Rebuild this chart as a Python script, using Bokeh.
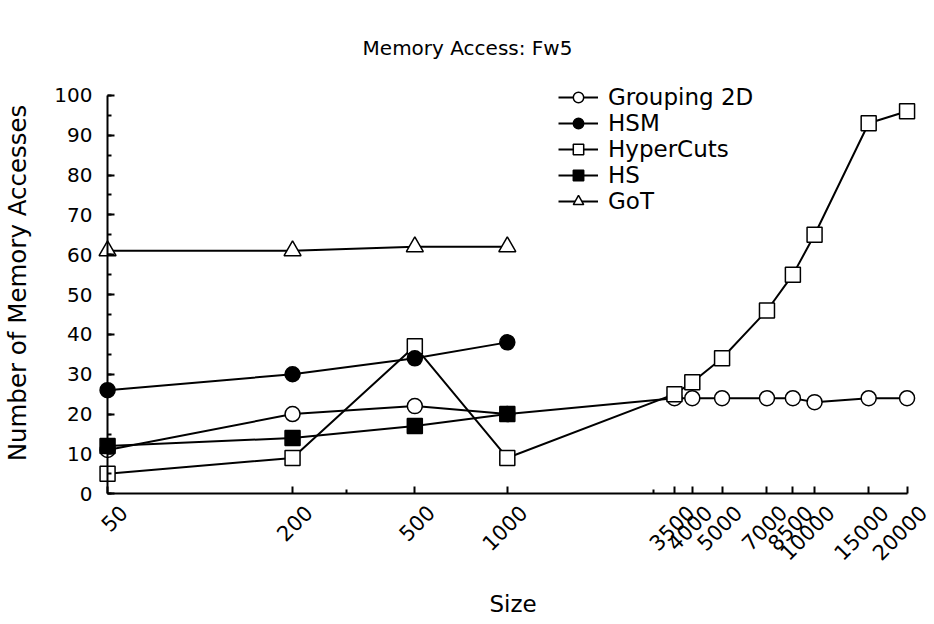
import math
from bokeh.plotting import figure
from bokeh.models import (Range1d, FixedTicker, SingleIntervalTicker, Legend, LegendItem,
                          Label, LabelSet, ColumnDataSource, CustomJSTickFormatter,
                          LinearAxis, LogAxis)
from bokeh.core.properties import value
from bokeh.embed import file_html
from bokeh.resources import INLINE

# ---- data ----
sizes_all = [50, 200, 500, 1000, 3500, 4000, 5000, 7000, 8500, 10000, 15000, 20000]
sizes_small = [50, 200, 500, 1000]

grouping2d = [11, 20, 22, 20, 24, 24, 24, 24, 24, 23, 24, 24]
hypercuts = [5, 9, 37, 9, 25, 28, 34, 46, 55, 65, 93, 96]
hsm = [26, 30, 34, 38]
hs = [12, 14, 17, 20]
got = [61, 61, 62, 62]

x_ticks = [50, 200, 500, 1000, 3500, 4000, 5000, 7000, 8500, 10000, 15000, 20000]
x_tick_labels = ["50", "200", "500", "1000", "3500", "4000", "5000", "7000", "8500",
                 "10000", "15000", "20000"]
x_minor = [300, 3000]

FONT = "DejaVu Sans"
BLANK = CustomJSTickFormatter(code="return '';")

p = figure(width=934, height=620, x_axis_type="log", title=None,
           x_range=Range1d(45, 24200), y_range=Range1d(-18, 123.8),
           output_backend="svg", toolbar_location=None,
           min_border_left=93, min_border_right=2, min_border_top=0, min_border_bottom=55)
p.outline_line_color = None
p.grid.visible = False
p.background_fill_color = "white"

# bottom axis at the frame edge: only carries the "Size" title
xb = p.xaxis[0]
xb.ticker = FixedTicker(ticks=[])
xb.formatter = BLANK
xb.axis_line_color = None
xb.major_tick_line_color = None
xb.minor_tick_line_color = None
xb.major_tick_in = 0
xb.major_tick_out = 0
xb.minor_tick_out = 0
xb.major_label_standoff = 0
xb.axis_label = "Size"
xb.axis_label_text_font = FONT
xb.axis_label_text_font_size = "23px"
xb.axis_label_text_font_style = "normal"
xb.axis_label_text_color = "black"
xb.axis_label_standoff = 25

# x axis line + ticks at y = 0
xa = LogAxis(ticker=FixedTicker(ticks=x_ticks, minor_ticks=x_minor), formatter=BLANK,
             fixed_location=0, bounds=(50, 20000))
xa.major_tick_in = 7
xa.major_tick_out = 0
xa.minor_tick_in = 4
xa.minor_tick_out = 0
xa.axis_line_width = 2
xa.major_tick_line_width = 2
xa.minor_tick_line_width = 2
xa.major_label_standoff = 0
xa.major_label_text_font_size = "0px"
xa.axis_label_standoff = 0
p.add_layout(xa, "below")

# y axis labels (at frame edge), without line and ticks
ya = p.yaxis[0]
ya.ticker = SingleIntervalTicker(interval=10, num_minor_ticks=2)
ya.bounds = (0, 100)
ya.axis_line_color = None
ya.major_tick_line_color = None
ya.minor_tick_line_color = None
ya.major_tick_out = 0
ya.major_tick_in = 0
ya.minor_tick_out = 0
ya.major_label_text_font = FONT
ya.major_label_text_font_size = "20px"
ya.major_label_text_color = "black"
ya.major_label_standoff = 1
ya.axis_label = "Number of Memory Accesses"
ya.axis_label_text_font = FONT
ya.axis_label_text_font_size = "24.5px"
ya.axis_label_text_font_style = "normal"
ya.axis_label_text_color = "black"
ya.axis_label_standoff = 19

# y axis line + ticks placed at x = 50
yb = LinearAxis(ticker=SingleIntervalTicker(interval=10, num_minor_ticks=2),
                formatter=BLANK, fixed_location=50, bounds=(0, 100))
yb.major_tick_in = 7
yb.major_tick_out = 0
yb.minor_tick_in = 4
yb.minor_tick_out = 0
yb.axis_line_width = 2
yb.major_tick_line_width = 2
yb.minor_tick_line_width = 2
yb.major_label_standoff = 0
yb.major_label_text_font_size = "0px"
yb.axis_label_standoff = 0
p.add_layout(yb, "left")

LW = 2
MS = 15

def series(xs, ys, marker, fill, size=MS):
    ln = p.line(xs, ys, line_color="black", line_width=LW)
    sc = p.scatter(xs, ys, marker=marker, size=size, fill_color=fill,
                   line_color="black", line_width=1.5)
    return [ln, sc]

r_g = series(sizes_all, grouping2d, "circle", "white")
r_hc = series(sizes_all, hypercuts, "square", "white")
r_hs = series(sizes_small, hs, "square", "black")
r_hsm = series(sizes_small, hsm, "circle", "black")
r_got = series(sizes_small, got, "triangle", "white", size=17)

legend = Legend(items=[
    LegendItem(label="Grouping 2D", renderers=r_g),
    LegendItem(label="HSM", renderers=r_hsm),
    LegendItem(label="HyperCuts", renderers=r_hc),
    LegendItem(label="HS", renderers=r_hs),
    LegendItem(label="GoT", renderers=r_got),
], location=(465, 351))
legend.padding = 0
legend.margin = 0
legend.spacing = 0
legend.border_line_alpha = 0
legend.background_fill_alpha = 0
legend.label_text_font = FONT
legend.label_text_font_size = "23px"
legend.label_text_color = "black"
legend.glyph_width = 40
legend.glyph_height = 26
legend.label_height = 26
legend.label_standoff = 10
p.add_layout(legend, "center")

# rotated x tick labels
tick_src = ColumnDataSource(dict(x=x_ticks, y=[0] * len(x_ticks), t=x_tick_labels))
tick_labels = LabelSet(x="x", y="y", text="t", source=tick_src, angle=math.pi / 4,
                       text_align="right", text_baseline="middle",
                       x_offset=16, y_offset=-15,
                       text_font=value(FONT), text_font_size=value("21px"),
                       text_color="black")
p.add_layout(tick_labels)

# chart title (frame-relative screen units)
title = Label(x=374, y=518, x_units="screen", y_units="screen",
              text="Memory Access: Fw5", text_align="center", text_baseline="middle",
              text_font=FONT, text_font_size="20px", text_color="black")
p.add_layout(title)

open("out.html", "w").write(file_html(p, INLINE))
